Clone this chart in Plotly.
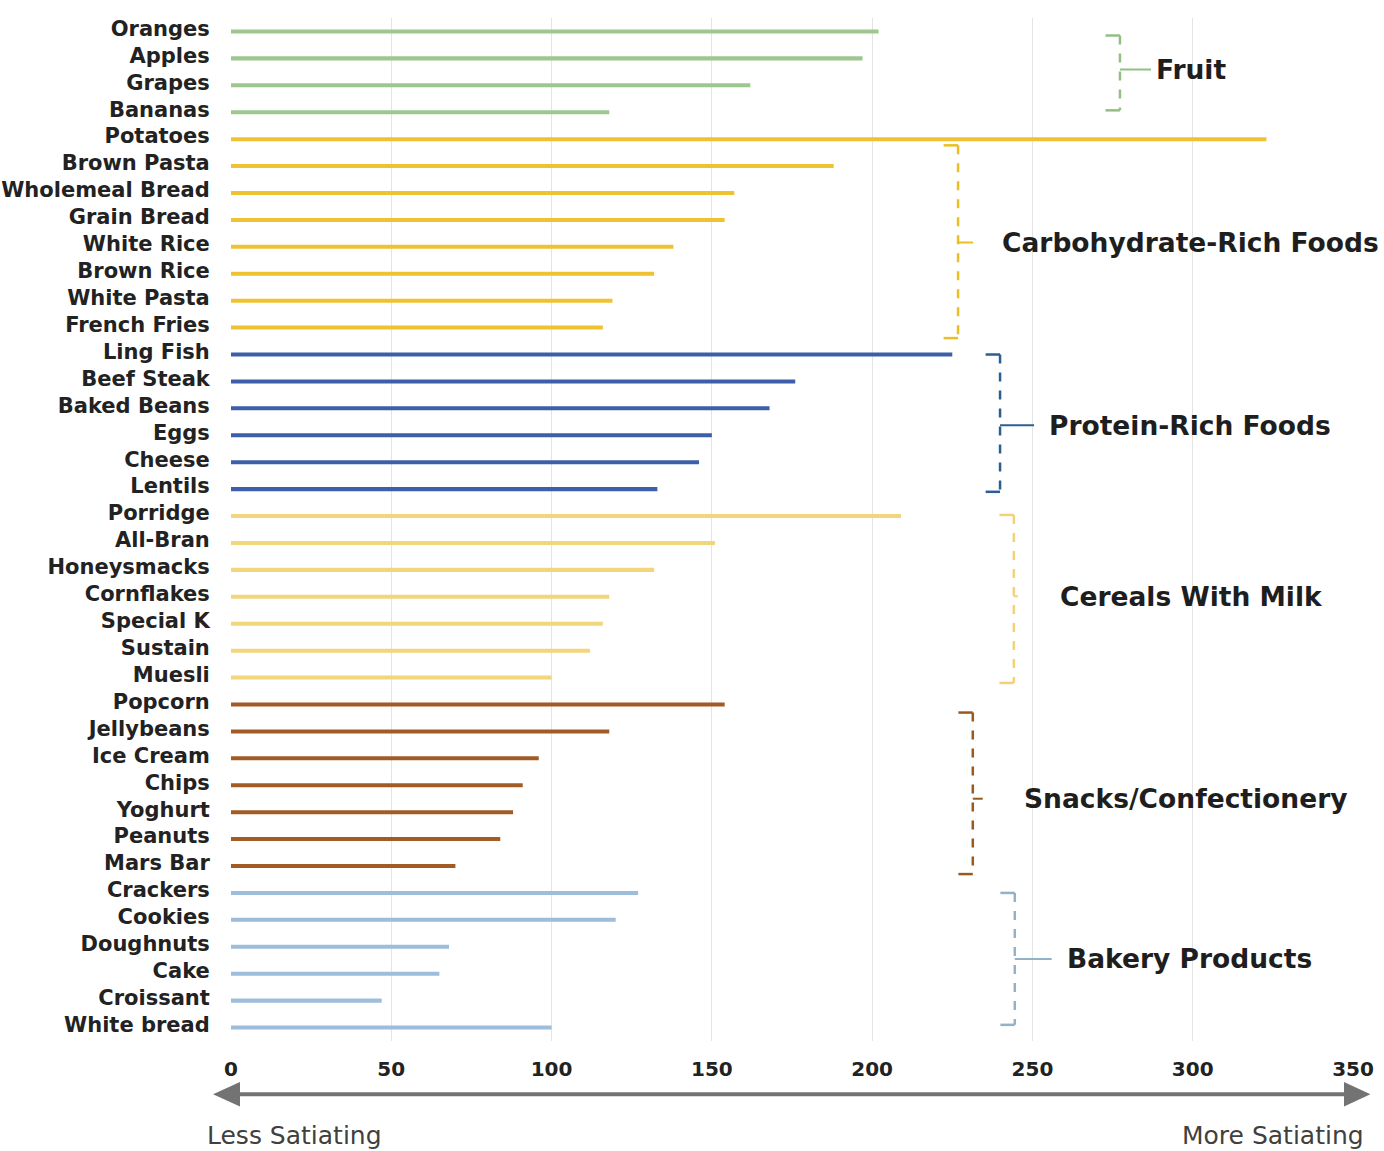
import plotly.graph_objects as go

# ---------------- data ----------------
fruit = ["Oranges", "Apples", "Grapes", "Bananas"]
fruit_vals = [202, 197, 162, 118]

carb = ["Potatoes", "Brown Pasta", "Wholemeal Bread", "Grain Bread", "White Rice",
        "Brown Rice", "White Pasta", "French Fries"]
carb_vals = [323, 188, 157, 154, 138, 132, 119, 116]

protein = ["Ling Fish", "Beef Steak", "Baked Beans", "Eggs", "Cheese", "Lentils"]
protein_vals = [225, 176, 168, 150, 146, 133]

cereals = ["Porridge", "All-Bran", "Honeysmacks", "Cornflakes", "Special K", "Sustain", "Muesli"]
cereals_vals = [209, 151, 132, 118, 116, 112, 100]

snacks = ["Popcorn", "Jellybeans", "Ice Cream", "Chips", "Yoghurt", "Peanuts", "Mars Bar"]
snacks_vals = [154, 118, 96, 91, 88, 84, 70]

bakery = ["Crackers", "Cookies", "Doughnuts", "Cake", "Croissant", "White bread"]
bakery_vals = [127, 120, 68, 65, 47, 100]

group_names = ["Fruit", "Carbohydrate-Rich Foods", "Protein-Rich Foods",
               "Cereals With Milk", "Snacks/Confectionery", "Bakery Products"]
x_ticks = [0, 50, 100, 150, 200, 250, 300, 350]

# ---------------- styling ----------------
groups = [
    (fruit, fruit_vals, "#9dc78e", "#93bf84"),
    (carb, carb_vals, "#efc232", "#e9bf22"),
    (protein, protein_vals, "#3d5ea8", "#2a5f8f"),
    (cereals, cereals_vals, "#f3d57c", "#f1d27a"),
    (snacks, snacks_vals, "#a35b26", "#9a5a1e"),
    (bakery, bakery_vals, "#9dbedb", "#92b2c9"),
]
bracket_x = [277.3, 226.8, 239.9, 244.2, 231.4, 244.5]
label_x = [287.8, 240.0, 254.5, 257.9, 246.8, 260.1]
label_dy = [-0.13, 0.03, 0.08, -0.1, 0.2, 0.0]
connector_end = [287.0, 231.5, 250.5, 245.5, 234.5, 256.0]
bracket_span = [(0.15, 2.93), (4.23, 11.39), (12.0, 17.1), (17.96, 24.2), (25.3, 31.3), (32.0, 36.9)]

fig = go.Figure()
all_cats = []
for cats, vals, col, _ in groups:
    all_cats += cats
    fig.add_trace(go.Bar(
        x=vals, y=cats, orientation="h", width=0.15,
        marker=dict(color=col, line=dict(width=0)), showlegend=False,
        hoverinfo="x+y"))

shapes = []
annotations = []
for gi, (cats, vals, col, bcol) in enumerate(groups):
    y0, y1 = bracket_span[gi]
    bx = bracket_x[gi]
    mid = (y0 + y1) / 2 + label_dy[gi]
    shapes.append(dict(type="line", xref="x", yref="y", x0=bx, x1=bx, y0=y0, y1=y1,
                       line=dict(color=bcol, width=2.5, dash="dash")))
    hook = 4.5
    shapes.append(dict(type="line", xref="x", yref="y", x0=bx - hook, x1=bx, y0=y0, y1=y0,
                       line=dict(color=bcol, width=2.5)))
    shapes.append(dict(type="line", xref="x", yref="y", x0=bx - hook, x1=bx, y0=y1, y1=y1,
                       line=dict(color=bcol, width=2.5)))
    shapes.append(dict(type="line", xref="x", yref="y", x0=bx, x1=connector_end[gi], y0=mid, y1=mid,
                       line=dict(color=bcol, width=2)))
    annotations.append(dict(x=label_x[gi], y=mid, xref="x", yref="y", text="<b>%s</b>" % group_names[gi],
                            showarrow=False, xanchor="left", yanchor="middle",
                            font=dict(family="DejaVu Sans", size=26.5, color="#1e1e1e")))

# bottom arrow
arrow_y = -0.052
shapes.append(dict(type="line", xref="paper", yref="paper", x0=0.0, x1=0.995, y0=arrow_y, y1=arrow_y,
                   line=dict(color="#737373", width=4)))
shapes.append(dict(type="path", xref="paper", yref="paper",
                   path="M -0.016 %f L 0.008 %f L 0.008 %f Z" % (arrow_y, arrow_y + 0.012, arrow_y - 0.012),
                   fillcolor="#737373", line=dict(width=0)))
shapes.append(dict(type="path", xref="paper", yref="paper",
                   path="M 1.0155 %f L 0.992 %f L 0.992 %f Z" % (arrow_y, arrow_y + 0.012, arrow_y - 0.012),
                   fillcolor="#737373", line=dict(width=0)))

annotations.append(dict(x=-0.023, y=-0.092, xref="paper", yref="paper", text="Less Satiating",
                        showarrow=False, xanchor="left", yanchor="middle",
                        font=dict(family="DejaVu Sans", size=25, color="#404040")))
annotations.append(dict(x=1.012, y=-0.092, xref="paper", yref="paper", text="More Satiating",
                        showarrow=False, xanchor="right", yanchor="middle",
                        font=dict(family="DejaVu Sans", size=25, color="#404040")))

fig.update_layout(
    width=1384, height=1151,
    margin=dict(l=231, r=31, t=18, b=110, autoexpand=False),
    paper_bgcolor="white", plot_bgcolor="white",
    bargap=0.8,
    shapes=shapes, annotations=annotations,
    font=dict(family="DejaVu Sans", color="#222222"),
)
fig.update_xaxes(range=[0, 350], tickvals=x_ticks, ticktext=["<b>%d</b>" % v for v in x_ticks],
                 showgrid=True, gridcolor="#e4e4e4", gridwidth=1, zeroline=False,
                 ticks="outside", ticklen=10, tickcolor="rgba(0,0,0,0)",
                 tickfont=dict(family="DejaVu Sans", size=20, color="#222222"),
                 showline=False, automargin=False)
fig.update_yaxes(categoryorder="array", categoryarray=all_cats,
                 range=[len(all_cats) - 0.5, -0.5],
                 tickvals=all_cats, ticktext=["<b>%s</b>" % c for c in all_cats],
                 ticks="outside", ticklen=16, tickcolor="rgba(0,0,0,0)", ticklabelshift=3,
                 tickfont=dict(family="DejaVu Sans", size=21, color="#222222"),
                 showgrid=False, zeroline=False, showline=False, automargin=False)

fig.write_html("out.html", config={"displayModeBar": False},
               post_script="document.body.style.margin='0';document.body.style.overflow='hidden';")
